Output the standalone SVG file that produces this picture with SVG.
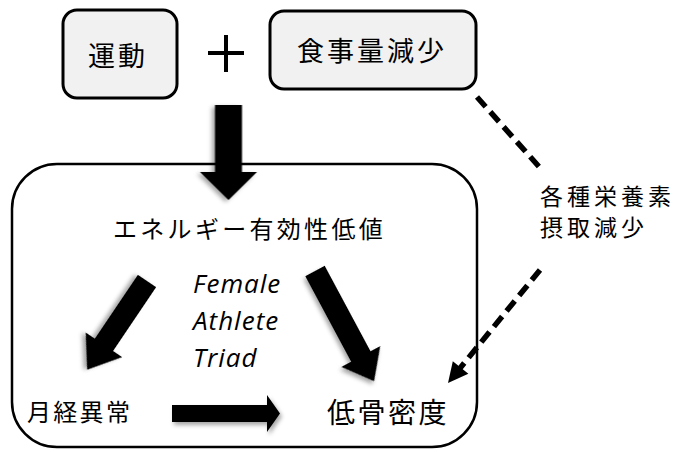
<svg xmlns="http://www.w3.org/2000/svg" width="679" height="452" viewBox="0 0 679 452">
<style>
.box{fill:#f1f1f1;stroke:#000;stroke-width:3}
.frame{fill:#fff;stroke:#000;stroke-width:2.5}
.jp{font-family:"Noto Sans CJK JP","Noto Sans CJK SC",sans-serif;font-weight:400;fill:#000}
.en{font-family:"Open Sans","DejaVu Sans",sans-serif;font-style:italic;fill:#000;font-size:26px;letter-spacing:1px}
.blk{fill:#000;filter:url(#sh)}
.dash{fill:none;stroke:#000;stroke-width:5.5;stroke-dasharray:13 7}
</style>
<defs>
<filter id="sh" x="-30%" y="-30%" width="160%" height="160%">
<feDropShadow dx="2" dy="3" stdDeviation="2" flood-color="#000" flood-opacity="0.35"/>
</filter>
</defs>
<rect width="679" height="452" fill="#fff"/>
<g id="triad-frame">
<rect class="frame" x="12" y="164" width="465" height="283" rx="45" ry="45"/>
</g>
<g id="node-exercise">
<rect class="box" x="63" y="10" width="114" height="88" rx="14"/>
<text class="jp" x="88" y="66" font-size="27" letter-spacing="3">運動</text>
</g>
<g id="plus">
<path d="M208,53 H244 M226,35 V72" stroke="#000" stroke-width="4" fill="none"/>
</g>
<g id="node-diet">
<rect class="box" x="270" y="11" width="206" height="78" rx="14"/>
<text class="jp" x="297" y="61" font-size="27" letter-spacing="3">食事量減少</text>
</g>
<g id="node-energy">
<text class="jp" x="113" y="238" font-size="24" letter-spacing="3.3">エネルギー有効性低値</text>
</g>
<g id="label-triad">
<text class="en" x="193" y="293">Female</text>
<text class="en" x="193" y="330">Athlete</text>
<text class="en" x="193" y="367">Triad</text>
</g>
<g id="node-menstrual">
<text class="jp" x="27" y="421" font-size="24" letter-spacing="2.3">月経異常</text>
</g>
<g id="node-bone">
<text class="jp" x="327" y="423" font-size="28" letter-spacing="2.5">低骨密度</text>
</g>
<g id="node-nutrients">
<text class="jp" x="540" y="205" font-size="23" letter-spacing="4">各種栄養素</text>
<text class="jp" x="540" y="236" font-size="23" letter-spacing="4">摂取減少</text>
</g>
<g id="connectors">
<polygon class="blk" transform="translate(228.5,105) rotate(90)" points="0,-13.5 67,-13.5 67,-28.5 95,0 67,28.5 67,13.5 0,13.5"/>
<polygon class="blk" transform="translate(147,281) rotate(124)" points="0,-11 77,-11 77,-22 107,0 77,22 77,11 0,11"/>
<polygon class="blk" transform="translate(315,271) rotate(61.8)" points="0,-11 97,-11 97,-22 125,0 97,22 97,11 0,11"/>
<polygon class="blk" transform="translate(172,413.5)" points="0,-8.5 95,-8.5 95,-18.5 108,0 95,18.5 95,8.5 0,8.5"/>
<line class="dash" x1="477" y1="97" x2="542" y2="170"/>
<line class="dash" x1="540" y1="270" x2="459" y2="369.5"/>
<polygon transform="translate(448,383) rotate(129)" points="0,0 -20,-10 -20,10" fill="#000"/>
</g>
</svg>
